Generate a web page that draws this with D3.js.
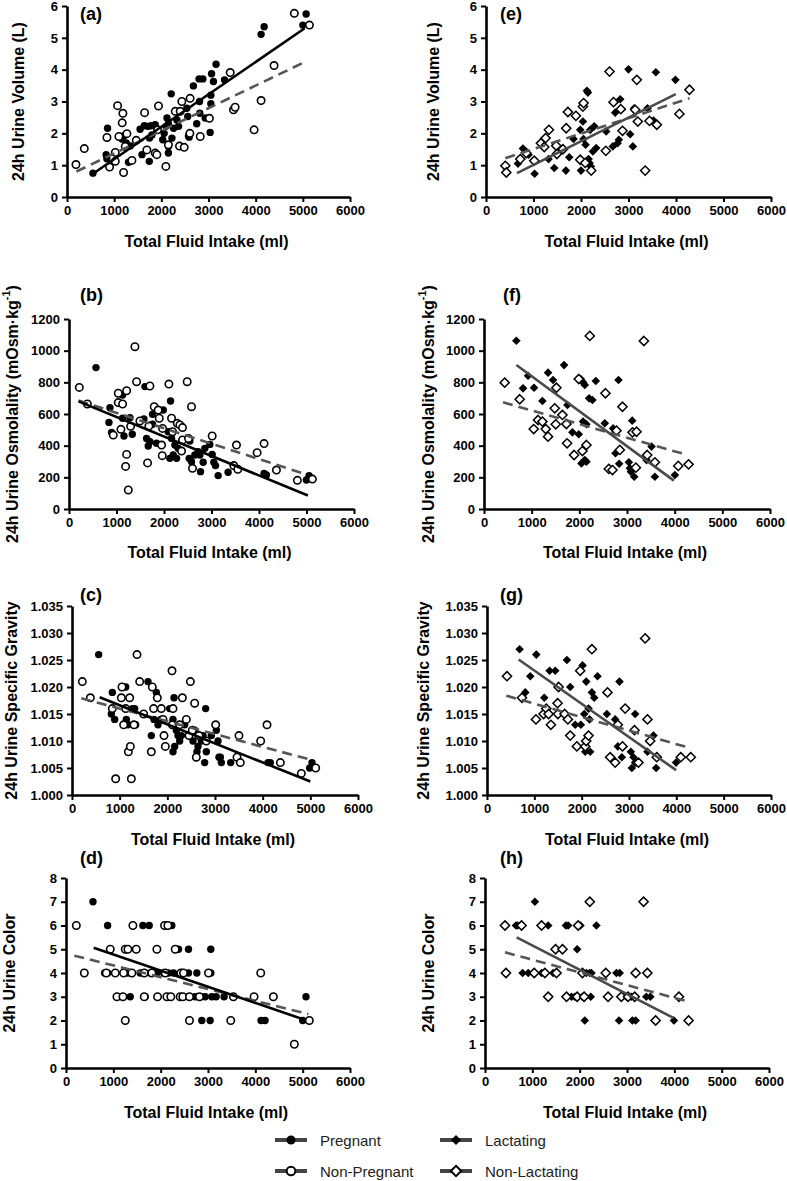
<!DOCTYPE html>
<html><head><meta charset="utf-8">
<script src="https://cdn.jsdelivr.net/npm/d3@7"></script>
<style>
body{margin:0;background:#fff}
svg{display:block}
text{font-family:"Liberation Sans",Arial,Helvetica,sans-serif}
</style>
</head><body>
<svg id="chart" width="787" height="1181"></svg>
<script>
// ---------- DATA ----------
const xTicks = [0,1000,2000,3000,4000,5000,6000];
const volTicks = [0,1,2,3,4,5,6];
const osmTicks = [0,200,400,600,800,1000,1200];
const sgTicks = [1.000,1.005,1.010,1.015,1.020,1.025,1.030,1.035];
const colTicks = [0,1,2,3,4,5,6,7,8];

// (a) urine volume — pregnant / non-pregnant
const volPregnant = [[550,0.75],[830,1.33],[845,1.2],[860,2.16],[1110,1.9],[1165,1.82],[1215,1.93],[1255,1.7],[1305,1.09],[1340,1.6],[1550,2.13],[1590,1.33],[1640,2.24],[1715,2.22],[1745,1.12],[1750,1.85],[1780,2.24],[1800,1.95],[1870,2.27],[2030,1.8],[2060,2.0],[2100,2.22],[2120,2.48],[2150,2.3],[2150,1.38],[2150,1.59],[2210,3.24],[2225,1.85],[2260,2.16],[2330,2.42],[2365,2.22],[2540,2.79],[2560,2.53],[2575,1.92],[2590,1.88],[2680,3.49],[2750,2.3],[2800,3.71],[2810,3.0],[2815,2.63],[2880,3.71],[2930,2.48],[3035,2.03],[3050,3.2],[3050,2.93],[3065,3.87],[3105,3.63],[3160,4.17],[3340,3.68],[4115,5.11],[4180,5.35],[5000,5.4],[5070,5.75]];
const volNonPregnant = [[190,1.02],[367,1.52],[847,1.87],[903,0.94],[1024,1.4],[1024,1.12],[1073,2.87],[1100,1.9],[1185,2.63],[1170,2.33],[1200,0.77],[1235,1.59],[1270,1.99],[1376,1.15],[1468,1.78],[1645,2.65],[1694,1.48],[1870,1.38],[1905,1.33],[1920,2.11],[1940,2.86],[2096,0.96],[2150,1.64],[2295,2.69],[2385,1.6],[2400,2.69],[2435,3.0],[2485,1.56],[2605,2.0],[2610,3.1],[2825,1.9],[3020,2.47],[3460,3.91],[3530,2.74],[3565,2.82],[3967,2.11],[4115,3.03],[4390,4.13],[4820,5.77],[5140,5.4]];
const volPregnantFit = [[550,0.73],[5040,5.3]];
const volNonPregnantFit = [[200,0.8],[5025,4.23]];

// (b) urine osmolality
const osmPregnant = [[568,893],[841,547],[862,640],[897,484],[1128,720],[1128,573],[1157,461],[1283,577],[1332,472],[1577,568],[1598,773],[1633,446],[1668,398],[1703,425],[1759,535],[1759,598],[1843,415],[1984,625],[2089,488],[2124,320],[2138,682],[2159,446],[2194,341],[2229,404],[2264,320],[2299,383],[2530,320],[2544,429],[2579,299],[2649,341],[2720,362],[2755,341],[2769,236],[2825,295],[2860,383],[2965,408],[3014,345],[3049,295],[3084,274],[3140,211],[3350,232],[4107,225],[4156,215],[4998,183],[5054,211]];
const osmNonPregnant = [[217,768],[386,663],[932,467],[1037,731],[1037,672],[1093,503],[1128,663],[1192,269],[1213,747],[1213,345],[1248,120],[1297,522],[1388,1025],[1423,804],[1493,556],[1654,291],[1682,524],[1703,777],[1794,646],[1878,625],[1900,573],[1949,404],[1963,337],[1970,509],[2103,789],[2159,573],[2180,488],[2278,541],[2334,531],[2369,366],[2390,514],[2390,436],[2488,804],[2516,446],[2579,646],[2600,257],[3014,461],[3470,274],[3526,404],[3554,251],[3960,356],[4107,413],[4367,246],[4808,181],[5124,189]];
const osmPregnantFit = [[200,680],[5030,85]];
const osmNonPregnantFit = [[200,685],[5000,218]];

// (c) urine specific gravity
const sgPregnant = [[559,1.026],[825,1.015],[846,1.019],[895,1.014],[1126,1.020],[1140,1.014],[1175,1.013],[1266,1.016],[1315,1.016],[1336,1.013],[1594,1.021],[1664,1.011],[1720,1.014],[1769,1.019],[1804,1.013],[1860,1.014],[2049,1.016],[2119,1.014],[2140,1.018],[2119,1.008],[2154,1.009],[2189,1.012],[2224,1.011],[2259,1.010],[2294,1.011],[2364,1.013],[2538,1.010],[2573,1.012],[2622,1.008],[2643,1.009],[2713,1.010],[2748,1.011],[2783,1.006],[2804,1.016],[2818,1.008],[2923,1.011],[3028,1.012],[3063,1.010],[3084,1.007],[3112,1.007],[3133,1.006],[3329,1.006],[4112,1.006],[4161,1.006],[4986,1.005],[5035,1.006]];
const sgNonPregnant = [[217,1.021],[385,1.018],[846,1.016],[916,1.003],[1035,1.018],[1049,1.020],[1084,1.013],[1126,1.016],[1182,1.008],[1210,1.018],[1224,1.009],[1245,1.003],[1301,1.013],[1364,1.026],[1420,1.021],[1503,1.015],[1664,1.008],[1685,1.020],[1713,1.016],[1790,1.018],[1874,1.016],[1909,1.014],[1930,1.011],[1958,1.009],[2098,1.023],[2105,1.013],[2119,1.016],[2259,1.013],[2315,1.018],[2399,1.014],[2455,1.011],[2483,1.021],[2524,1.012],[2573,1.017],[2608,1.007],[2664,1.011],[2818,1.010],[3014,1.013],[3462,1.007],[3503,1.011],[3531,1.006],[3958,1.010],[4091,1.013],[4371,1.006],[4811,1.004],[5112,1.005]];
const sgPregnantFit = [[580,1.0181],[5000,1.0025]];
const sgNonPregnantFit = [[196,1.0179],[5021,1.0065]];

// (d) urine color
const colPregnant = [[570,7],[879,6],[1624,6],[1758,6],[2236,6],[2377,5],[2588,5],[3059,5],[816,4],[879,4],[1308,4],[1568,4],[1779,4],[1920,4],[2060,4],[2166,4],[2271,4],[2588,4],[2764,4],[3059,4],[1357,3],[1674,3],[2588,3],[2729,3],[2848,3],[2940,3],[3080,3],[3172,3],[3340,3],[5070,3],[2869,2],[3045,2],[4121,2],[4205,2],[5000,2]];
const colNonPregnant = [[218,6],[1413,6],[2082,6],[2152,6],[935,5],[1252,5],[1308,5],[1484,5],[1920,5],[2307,5],[387,4],[851,4],[1041,4],[1217,4],[1392,4],[1653,4],[1814,4],[2096,4],[2426,4],[2482,4],[3010,4],[4114,4],[1076,3],[1203,3],[1653,3],[1934,3],[2131,3],[2215,3],[2412,3],[2468,3],[2609,3],[2820,3],[3537,3],[3973,3],[4381,3],[1252,2],[2609,2],[3481,2],[5141,2],[4824,1]];
const colPregnantFit = [[584,5.06],[5014,2.05]];
const colNonPregnantFit = [[176,4.73],[5120,2.27]];

// (e) urine volume — lactating / non-lactating
const volLactating = [[673,1.05],[778,1.52],[897,1.33],[1023,0.73],[1318,1.19],[1437,0.91],[1682,0.83],[1752,1.25],[1843,1.82],[1984,2.11],[2000,0.83],[2040,2.37],[2054,1.82],[2096,1.64],[2124,3.34],[2145,3.28],[2159,1.19],[2180,1.07],[2194,2.11],[2208,0.96],[2250,1.43],[2278,2.22],[2320,1.54],[2530,2.06],[2670,1.59],[2720,2.65],[2770,1.69],[2797,1.8],[2825,3.07],[3000,4.01],[3035,1.97],[3091,1.59],[3119,2.79],[3400,2.79],[3526,2.4],[3575,3.92],[3988,3.68]];
const volNonLactating = [[407,0.98],[428,0.77],[722,1.19],[848,1.38],[1016,1.14],[1157,1.69],[1227,1.57],[1255,1.85],[1325,2.11],[1479,1.61],[1493,1.35],[1619,1.5],[1689,2.16],[1724,2.67],[1893,2.55],[1984,1.17],[2040,2.84],[2054,2.95],[2089,1.07],[2215,0.83],[2523,1.45],[2600,3.94],[2684,2.98],[2838,2.76],[2874,2.08],[3140,2.74],[3175,3.68],[3196,2.37],[3351,0.83],[3442,2.39],[3596,2.27],[4072,2.61],[4283,3.37]];
const volLactatingFit = [[652,0.75],[3995,3.23]];
const volNonLactatingFit = [[407,1.22],[4283,3.1]];

// (f) urine osmolality
const osmLactating = [[679,1063],[819,762],[924,842],[1050,766],[1225,682],[1344,861],[1449,815],[1680,909],[1750,657],[1855,484],[1988,472],[2030,821],[2079,800],[2114,783],[2044,288],[2114,309],[2149,299],[2079,552],[2149,535],[2205,699],[2275,688],[2345,808],[2534,541],[2709,509],[2758,352],[2822,815],[2836,286],[3039,295],[3060,257],[3081,236],[3109,558],[3151,204],[3410,309],[3515,394],[3585,204],[4005,215]];
const osmNonLactating = [[434,798],[749,693],[1043,505],[1134,562],[1225,552],[1295,505],[1344,457],[1484,636],[1505,535],[1519,766],[1645,594],[1729,537],[1743,415],[1890,341],[1988,821],[2065,366],[2149,404],[2219,1093],[2548,731],[2618,253],[2695,246],[2780,495],[2849,373],[2905,646],[3116,484],[3186,261],[3200,488],[3354,1061],[3424,341],[3585,295],[4075,272],[4292,282]];
const osmLactatingFit = [[679,909],[3984,179]];
const osmNonLactatingFit = [[399,674],[4271,341]];

// (g) urine specific gravity
const sgLactating = [[689,1.027],[809,1.019],[914,1.022],[1041,1.026],[1210,1.018],[1322,1.023],[1442,1.023],[1688,1.025],[1758,1.020],[1864,1.013],[1983,1.013],[2019,1.024],[2054,1.015],[2075,1.008],[2096,1.021],[2145,1.016],[2167,1.014],[2180,1.008],[2216,1.019],[2265,1.018],[2335,1.022],[2532,1.015],[2708,1.014],[2764,1.009],[2799,1.021],[2849,1.007],[3039,1.008],[3060,1.005],[3095,1.007],[3130,1.015],[3130,1.006],[3165,1.006],[3390,1.008],[3517,1.011],[3573,1.005],[3995,1.006]];
const sgNonLactating = [[422,1.022],[739,1.018],[1034,1.014],[1196,1.015],[1252,1.016],[1301,1.015],[1350,1.013],[1491,1.017],[1498,1.015],[1512,1.020],[1639,1.015],[1709,1.014],[1758,1.011],[1899,1.009],[1969,1.023],[2075,1.009],[2096,1.010],[2145,1.011],[2216,1.027],[2546,1.019],[2602,1.007],[2708,1.006],[2764,1.013],[2863,1.009],[2919,1.016],[3116,1.012],[3200,1.006],[3341,1.029],[3390,1.014],[3447,1.010],[3587,1.007],[4094,1.007],[4305,1.007]];
const sgLactatingFit = [[668,1.0251],[3995,1.0046]];
const sgNonLactatingFit = [[408,1.0184],[4291,1.0087]];

// (h) urine color
const colLactating = [[1054,7],[654,6],[689,6],[1335,6],[1708,6],[1757,6],[2017,6],[2354,6],[1947,5],[794,4],[914,4],[1195,4],[1441,4],[2059,4],[2143,4],[2214,4],[2249,4],[2776,4],[2846,4],[1827,3],[1897,3],[2059,3],[2235,3],[2987,3],[3092,3],[3408,3],[3493,3],[2108,2],[2832,2],[3113,2],[3183,2],[3584,2],[3991,2]];
const colNonLactating = [[2214,7],[3350,7],[422,6],[773,6],[1195,6],[1968,6],[1490,5],[1637,5],[443,4],[1040,4],[1265,4],[1511,4],[2059,4],[2551,4],[3183,4],[3430,4],[1335,3],[1722,3],[1947,3],[2094,3],[2600,3],[2881,3],[3022,3],[3162,3],[4097,3],[3605,2],[4301,2]];
const colLactatingFit = [[668,5.5],[3991,2.1]];
const colNonLactatingFit = [[422,4.87],[4287,2.8]];

const legendLabels = ["Pregnant","Non-Pregnant","Lactating","Non-Lactating"];

// ---------- LAYOUT ----------
const svg = d3.select("#chart");
const FONT = '"Liberation Sans",Arial,Helvetica,sans-serif';
const GRAY = "#555";

const panels = [
  {tag:"(a)", box:[67,350,6,197], yDom:[0,6], yTicks:volTicks, fmt:d3.format("d"), yLab:"24h Urine Volume (L)", yLabX:18, tagX:80, tagY:20, titleY:247,
   filled:volPregnant, open:volNonPregnant, fitF:volPregnantFit, fitO:volNonPregnantFit, shape:"circle"},
  {tag:"(b)", box:[69,354,319,509], yDom:[0,1200], yTicks:osmTicks, fmt:d3.format("d"), yLab:"osm", yLabX:12, tagX:80, tagY:301, titleY:558,
   filled:osmPregnant, open:osmNonPregnant, fitF:osmPregnantFit, fitO:osmNonPregnantFit, shape:"circle"},
  {tag:"(c)", box:[72,358,606,795], yDom:[1.000,1.035], yTicks:sgTicks, fmt:d3.format(".3f"), yLab:"24h Urine Specific Gravity", yLabX:11, tagX:80, tagY:601, titleY:845,
   filled:sgPregnant, open:sgNonPregnant, fitF:sgPregnantFit, fitO:sgNonPregnantFit, shape:"circle"},
  {tag:"(d)", box:[66,350,878,1068], yDom:[0,8], yTicks:colTicks, fmt:d3.format("d"), yLab:"24h Urine Color", yLabX:9, tagX:80, tagY:864, titleY:1118,
   filled:colPregnant, open:colNonPregnant, fitF:colPregnantFit, fitO:colNonPregnantFit, shape:"circle"},
  {tag:"(e)", box:[486,771,6,197], yDom:[0,6], yTicks:volTicks, fmt:d3.format("d"), yLab:"24h Urine Volume (L)", yLabX:433, tagX:500, tagY:20, titleY:247,
   filled:volLactating, open:volNonLactating, fitF:volLactatingFit, fitO:volNonLactatingFit, shape:"diamond"},
  {tag:"(f)", box:[484,770,319,509], yDom:[0,1200], yTicks:osmTicks, fmt:d3.format("d"), yLab:"osm", yLabX:428, tagX:503, tagY:301, titleY:558,
   filled:osmLactating, open:osmNonLactating, fitF:osmLactatingFit, fitO:osmNonLactatingFit, shape:"diamond"},
  {tag:"(g)", box:[487,771,606,795], yDom:[1.000,1.035], yTicks:sgTicks, fmt:d3.format(".3f"), yLab:"24h Urine Specific Gravity", yLabX:423, tagX:500, tagY:601, titleY:845,
   filled:sgLactating, open:sgNonLactating, fitF:sgLactatingFit, fitO:sgNonLactatingFit, shape:"diamond"},
  {tag:"(h)", box:[485,769,878,1068], yDom:[0,8], yTicks:colTicks, fmt:d3.format("d"), yLab:"24h Urine Color", yLabX:428, tagX:500, tagY:864, titleY:1118,
   filled:colLactating, open:colNonLactating, fitF:colLactatingFit, fitO:colNonLactatingFit, shape:"diamond"}
];

function diamondPath(half){
  return `M0,${-half}L${half},0L0,${half}L${-half},0Z`;
}

panels.forEach(p => {
  const [x0,x1,yT,yB] = p.box;
  const x = d3.scaleLinear().domain([0,6000]).range([x0,x1]);
  const y = d3.scaleLinear().domain(p.yDom).range([yB,yT]);
  const g = svg.append("g");

  // axes
  const xa = g.append("g").attr("transform",`translate(0,${yB})`)
    .call(d3.axisBottom(x).tickValues(xTicks).tickFormat(d3.format("d")).tickSize(5).tickSizeOuter(0).tickPadding(4));
  const ya = g.append("g").attr("transform",`translate(${x0},0)`)
    .call(d3.axisLeft(y).tickValues(p.yTicks).tickFormat(p.fmt).tickSize(5).tickSizeOuter(0).tickPadding(4));
  [xa,ya].forEach(a=>{
    a.select(".domain").attr("stroke","#000").attr("stroke-width",2.6);
    a.selectAll(".tick line").attr("stroke","#000").attr("stroke-width",2);
    a.selectAll(".tick text").attr("font-family",FONT).attr("font-size",13).attr("font-weight","bold").attr("fill","#000");
  });

  // points
  const fitColor = p.shape==="circle" ? "#000" : "#4a4a4a";
  if(p.shape==="circle"){
    g.append("g").selectAll("circle").data(p.filled).join("circle")
      .attr("cx",d=>x(d[0])).attr("cy",d=>y(d[1])).attr("r",3.7).attr("fill","#000");
    g.append("g").selectAll("circle").data(p.open).join("circle")
      .attr("cx",d=>x(d[0])).attr("cy",d=>y(d[1])).attr("r",3.7).attr("fill","#fff").attr("stroke","#000").attr("stroke-width",1.6);
  } else {
    g.append("g").selectAll("path").data(p.filled).join("path")
      .attr("transform",d=>`translate(${x(d[0])},${y(d[1])})`).attr("d",diamondPath(4.3)).attr("fill","#000");
    g.append("g").selectAll("path").data(p.open).join("path")
      .attr("transform",d=>`translate(${x(d[0])},${y(d[1])})`).attr("d",diamondPath(4.6)).attr("fill","#fff").attr("stroke","#000").attr("stroke-width",1.5);
  }

  // fit lines
  const line = d3.line().x(d=>x(d[0])).y(d=>y(d[1]));
  g.append("path").datum(p.fitO).attr("d",line).attr("fill","none").attr("stroke",GRAY).attr("stroke-width",2.6).attr("stroke-dasharray","10,6");
  g.append("path").datum(p.fitF).attr("d",line).attr("fill","none").attr("stroke",fitColor).attr("stroke-width",2.6);

  // panel tag
  g.append("text").attr("x",p.tagX).attr("y",p.tagY).text(p.tag)
    .attr("font-family",FONT).attr("font-size",18).attr("font-weight","bold");

  // x title
  g.append("text").attr("x",(x0+x1)/2 - 2).attr("y",p.titleY).attr("text-anchor","middle")
    .attr("font-family",FONT).attr("font-size",16).attr("font-weight","bold").text("Total Fluid Intake (ml)");

  // y title
  const cy = (yT+yB)/2;
  const yt = g.append("text").attr("transform",`translate(${p.yLabX},${cy}) rotate(-90)`)
    .attr("text-anchor","middle").attr("dominant-baseline","central")
    .attr("font-family",FONT).attr("font-size",16).attr("font-weight","bold");
  if(p.yLab==="osm"){
    yt.append("tspan").text("24h Urine Osmolality (mOsm·kg");
    yt.append("tspan").attr("dy",-6).attr("font-size",11).text("-1");
    yt.append("tspan").attr("dy",6).text(")");
  } else {
    yt.text(p.yLab);
  }
});

// ---------- LEGEND ----------
const legendItems = [
  {label:legendLabels[0], lx:275, ly:1140, shape:"circle", fill:"#000"},
  {label:legendLabels[1], lx:275, ly:1171, shape:"circle", fill:"#fff"},
  {label:legendLabels[2], lx:440, ly:1140, shape:"diamond", fill:"#000"},
  {label:legendLabels[3], lx:440, ly:1171, shape:"diamond", fill:"#fff"}
];
const lg = svg.append("g");
legendItems.forEach(it=>{
  lg.append("line").attr("x1",it.lx).attr("x2",it.lx+32).attr("y1",it.ly).attr("y2",it.ly)
    .attr("stroke","#444").attr("stroke-width",4);
  if(it.shape==="circle"){
    lg.append("circle").attr("cx",it.lx+16).attr("cy",it.ly).attr("r",it.fill==="#000"?4.5:4.3)
      .attr("fill",it.fill).attr("stroke","#000").attr("stroke-width",it.fill==="#000"?0:2);
  } else {
    lg.append("path").attr("transform",`translate(${it.lx+16},${it.ly})`).attr("d",diamondPath(it.fill==="#000"?5:5.2))
      .attr("fill",it.fill).attr("stroke","#000").attr("stroke-width",it.fill==="#000"?0:2);
  }
  lg.append("text").attr("x",it.lx+45).attr("y",it.ly).attr("dominant-baseline","central")
    .attr("font-family",FONT).attr("font-size",15).attr("fill","#222").text(it.label);
});
</script>
</body></html>
